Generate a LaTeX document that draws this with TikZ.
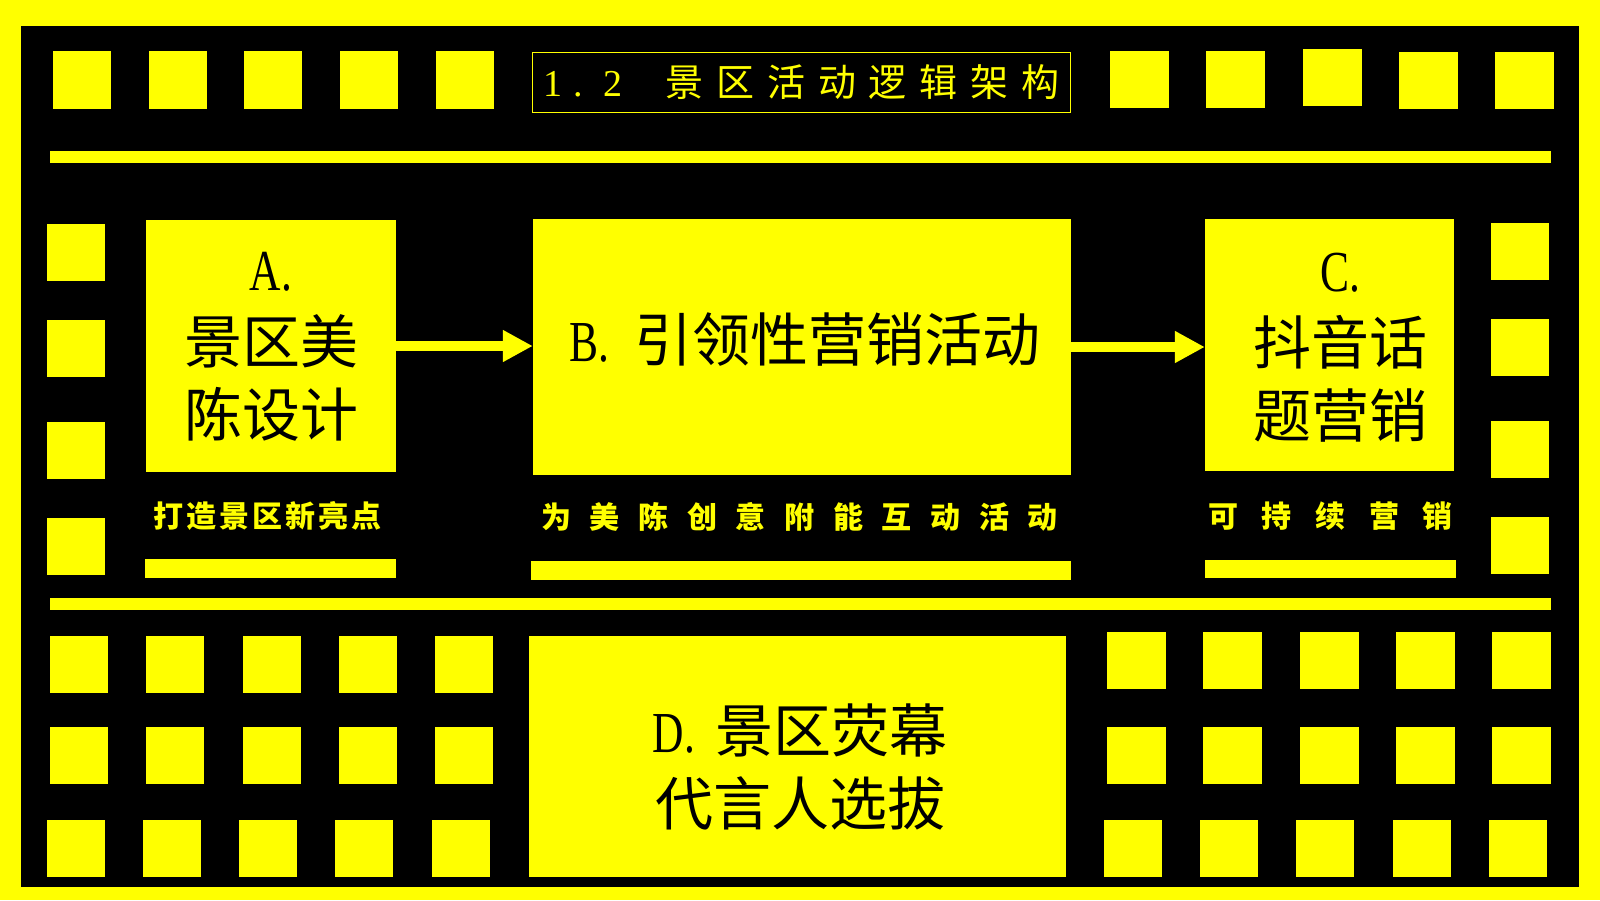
\documentclass[tikz,border=0pt]{standalone}
\usepackage{fontspec}
\usetikzlibrary{arrows.meta}
\newfontfamily\cjk{Noto Sans CJK SC}
\newfontfamily\latn{Liberation Serif}
\newfontfamily\latc[FakeStretch=0.75]{Liberation Serif}
\definecolor{ylw}{HTML}{FFFF00}
\makeatletter
\newcommand\spreadtext[2]{\def\sp@gap{#1}\let\sp@sep\relax\@tfor\sp@c:=#2\do{\sp@sep\sp@c\def\sp@sep{\hspace{\sp@gap}}}}
\makeatother
\tikzset{
  sq/.style={fill=ylw},
  bar/.style={fill=ylw},
  box/.style={fill=ylw, draw=none, inner sep=0pt},
  boxtext/.style={text=black, align=center, inner sep=0pt, font=\cjk\fontsize{58}{73}\selectfont},
  captext/.style={text=ylw, inner sep=0pt, font=\cjk\bfseries\fontsize{30}{36}\selectfont},
  flow/.style={draw=ylw, line width=9.5pt, -{Triangle[length=30pt,width=30pt]}},
  titlebox/.style={draw=ylw, line width=1.5pt, inner sep=0pt, text=ylw, font=\cjk\fontsize{38}{44}\selectfont},
}
\begin{document}
\begin{tikzpicture}[x=1pt,y=-1pt]
\useasboundingbox (0,0) rectangle (1600,900);
% frame
\fill[ylw] (0,0) rectangle (1600,900);
\fill[black] (21,26) rectangle (1579,887);
% top squares
\foreach \x in {53,149,244,340,436} \fill[sq] (\x,51) rectangle ++(58,57.7);
\foreach \x/\y in {1110/51,1206/51,1303/49,1399/52,1495/52} \fill[sq] (\x,\y) rectangle ++(59,57);
% side squares
\foreach \y in {224,320,422,518} \fill[sq] (47,\y) rectangle ++(58,57);
\foreach \y in {223,319,421,517} \fill[sq] (1491,\y) rectangle ++(58,57);
% bottom squares
\foreach \y in {636,727} \foreach \x in {50,146,243,339,435} \fill[sq] (\x,\y) rectangle ++(58,57);
\foreach \x in {47,143,239,335,432} \fill[sq] (\x,820) rectangle ++(58,57);
\foreach \y in {632,727} \foreach \x in {1107,1203,1300,1396,1492} \fill[sq] (\x,\y) rectangle ++(59,57);
\foreach \x in {1104,1200,1296,1393,1489} \fill[sq] (\x,820) rectangle ++(58,57);
% bars
\fill[bar] (50,151) rectangle (1551,163);
\fill[bar] (50,598) rectangle (1551,610);
\fill[bar] (145,559) rectangle (396,578);
\fill[bar] (531,561) rectangle (1071,580);
\fill[bar] (1205,560) rectangle (1456,578);
% title
\node[titlebox, minimum width=538pt, minimum height=60pt] (title) at (801.6,82.3)
  {{\latn 1}\hspace{10.8pt}{\latn .}\hspace{20.9pt}{\latn 2}\hspace{42.8pt}\spreadtext{12.8pt}{景区活动逻辑架构}};
% boxes
\node[box, minimum width=250pt, minimum height=252pt] (A) at (271,346) {};
\node[box, minimum width=538pt, minimum height=256pt] (B) at (802,347) {};
\node[box, minimum width=249pt, minimum height=252pt] (C) at (1329.5,345) {};
\node[box, minimum width=537pt, minimum height=241pt] (D) at (797.5,756.5) {};
% box texts
\node[boxtext] (At) at (271,347) {{\latc A.}\\景区美\\陈设计};
\node[boxtext] (Bt) at (805,340) {{\latc B.}\hspace{26pt}引领性营销活动};
\node[boxtext] (Ct) at (1340,348) {{\latc C.}\\抖音话\\题营销};
\node[boxtext] (Dt) at (800,767) {{\latc D.}\hspace{20pt}景区荧幕\\代言人选拔};
% captions
\node[captext] (Acap) at (267,516) {\spreadtext{3pt}{打造景区新亮点}};
\node[captext] (Bcap) at (799.5,516.5) {\spreadtext{18.7pt}{为美陈创意附能互动活动}};
\node[captext] (Ccap) at (1330.6,516) {\spreadtext{23.6pt}{可持续营销}};
% arrows
\draw[flow] (A.east) -- (A.east -| B.west);
\draw[flow] (B.east) -- (B.east -| C.west);
\end{tikzpicture}
\end{document}
